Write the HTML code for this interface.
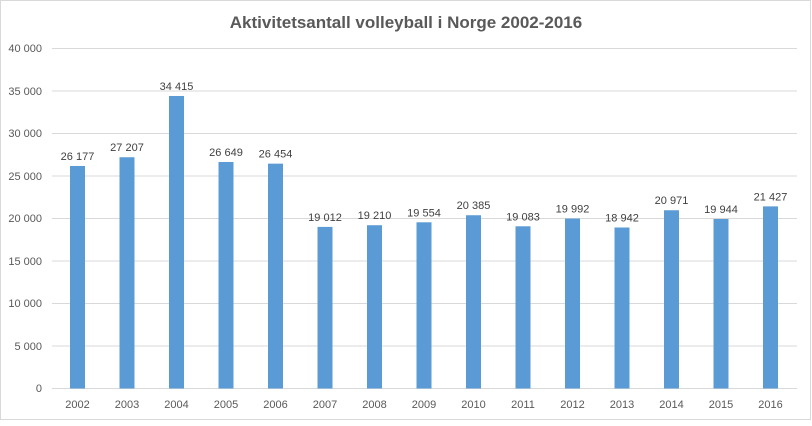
<!DOCTYPE html>
<html><head><style>body{margin:0;background:#fff}</style></head><body>
<svg width="812" height="421" xmlns="http://www.w3.org/2000/svg" font-family="Liberation Sans, sans-serif">
<rect x="0.5" y="0.5" width="810" height="419" fill="#fff" stroke="#d9d9d9"/>
<text x="406" y="28" text-anchor="middle" font-size="17" font-weight="bold" fill="#595959">Aktivitetsantall volleyball i Norge 2002-2016</text>
<g stroke="#d9d9d9" stroke-width="1">
<line x1="52" x2="797" y1="48.5" y2="48.5"/><line x1="52" x2="797" y1="91" y2="91"/>
<line x1="52" x2="797" y1="133.5" y2="133.5"/><line x1="52" x2="797" y1="176" y2="176"/>
<line x1="52" x2="797" y1="218.5" y2="218.5"/><line x1="52" x2="797" y1="261" y2="261"/>
<line x1="52" x2="797" y1="303.5" y2="303.5"/><line x1="52" x2="797" y1="346" y2="346"/>
<line x1="52" x2="797" y1="388.5" y2="388.5"/>
</g>
<g font-size="11" fill="#595959" text-anchor="end">
<text x="42" y="52">40 000</text><text x="42" y="95">35 000</text><text x="42" y="137">30 000</text>
<text x="42" y="180">25 000</text><text x="42" y="222">20 000</text><text x="42" y="265">15 000</text>
<text x="42" y="307">10 000</text><text x="42" y="350">5 000</text><text x="42" y="392">0</text>
</g>
<g id="bars" fill="#5b9bd5"></g>
<g id="lbl" font-size="11" fill="#404040" text-anchor="middle"></g>
<g id="yr" font-size="11" fill="#595959" text-anchor="middle"></g>
<script>
var v=[26177,27207,34415,26649,26454,19012,19210,19554,20385,19083,19992,18942,20971,19944,21427];
var b=document.getElementById('bars'),l=document.getElementById('lbl'),y=document.getElementById('yr'),ns='http://www.w3.org/2000/svg';
v.forEach(function(d,i){var cx=77.5+i*49.5,h=d*340/40000,top=388.5-h;
var r=document.createElementNS(ns,'rect');r.setAttribute('x',cx-7.5);r.setAttribute('y',top);r.setAttribute('width',15);r.setAttribute('height',h);b.appendChild(r);
var t=document.createElementNS(ns,'text');t.setAttribute('x',cx);t.setAttribute('y',top-6);t.textContent=String(d).replace(/(\d\d)(\d{3})$/,'$1 $2');l.appendChild(t);
var u=document.createElementNS(ns,'text');u.setAttribute('x',cx);u.setAttribute('y',408);u.textContent=2002+i;y.appendChild(u);});
</script>
</svg>
</body></html>
